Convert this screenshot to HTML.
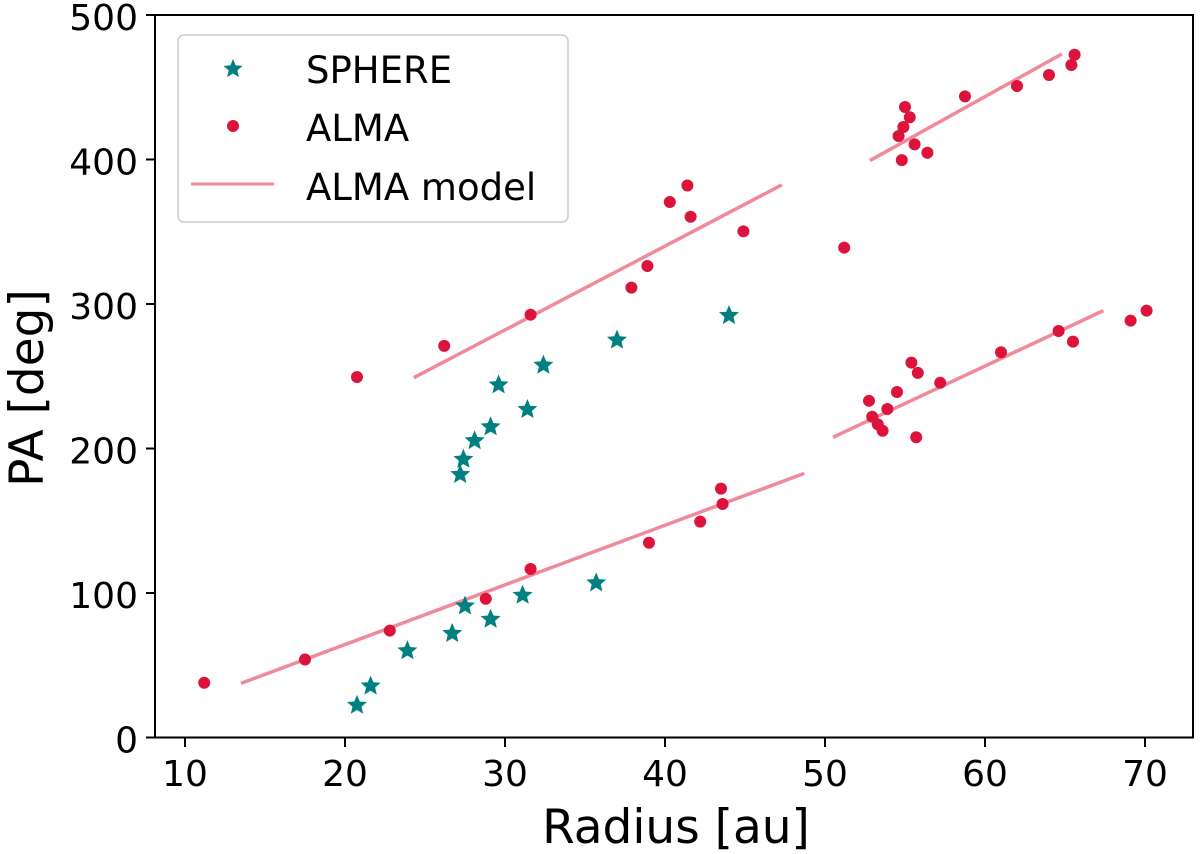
<!DOCTYPE html>
<html><head><meta charset="utf-8"><style>
body{margin:0;background:#fff}
svg{display:block;font-family:"DejaVu Sans","Liberation Sans",sans-serif}
</style></head><body>
<svg id="chart" width="1200" height="854" viewBox="0 0 1200 854">
<g id="marks"></g>
<rect x="155" y="15" width="1038" height="722.5" fill="none" stroke="#000" stroke-width="2"/>
<g id="axes"></g>
<text x="676" y="843" text-anchor="middle" font-size="47">Radius [au]</text>
<text transform="translate(43,388) rotate(-90)" text-anchor="middle" font-size="47">PA [deg]</text>
<g>
<rect x="178" y="35" width="390" height="187" rx="6" fill="#fff" fill-opacity="0.8" stroke="#ccc" stroke-width="1.5"/>
<g><path id="legstar" fill="#008080"/><text x="306" y="83" font-size="37">SPHERE</text></g>
<g><circle cx="233" cy="126" r="6" fill="#dc143c"/><text x="306" y="141" font-size="37">ALMA</text></g>
<g><line x1="191" y1="184" x2="274" y2="184" stroke="#f08a98" stroke-width="3"/><text x="306" y="200" font-size="37">ALMA model</text></g>
</g>
</svg>
<script>
const sphereR=[20.75,21.6,23.9,26.7,27.5,29.1,31.1,35.7,27.2,27.4,28.1,29.1,29.6,31.4,32.4,37.0,44.0];
const spherePA=[22.3,35.6,60,72,91,81.8,98.4,107,182,192.5,205.4,215,244,227,257.6,275,292];
const almaR=[11.2,17.5,22.8,28.8,31.6,20.75,26.2,31.6,41.4,40.3,41.6,44.9,38.9,37.9,51.2,43.5,43.6,42.2,39.0,
65.6,65.4,64.0,62.0,58.75,55.0,55.3,54.9,54.6,55.6,56.4,54.8,
70.1,69.1,64.6,65.5,61.0,55.4,55.8,57.2,54.5,52.75,53.9,52.95,53.3,53.6,55.7];
const almaPA=[37.9,54,74,96,116.6,249.5,271,292.6,382,370.6,360.4,350.3,326.3,311.3,339,172.2,161.6,149.4,134.8,
472.5,465.4,458.5,450.9,443.7,436.3,429.2,422.5,416.3,410.5,404.7,399.6,
295.4,288.5,281.3,274,266.6,259.4,252.3,245.5,239.1,233,227.3,222,216.7,212.3,207.8];
const modelR0=[13.5,24.3,50.5,52.8];
const modelR1=[48.7,47.3,67.4,64.8];
const modelPA0=[37.5,249,207.8,399.2];
const modelPA1=[182.8,382.4,295.4,473];
const xTicks=[10,20,30,40,50,60,70];
const yTicks=[0,100,200,300,400,500];
const X=v=>185+(v-10)*16;
const Y=v=>737.5-v*1.445;
const NS="http://www.w3.org/2000/svg";
const marks=document.getElementById('marks'),axes=document.getElementById('axes');
function mk(t,a,p){const e=document.createElementNS(NS,t);for(const k in a)e.setAttribute(k,a[k]);p.appendChild(e);return e;}
function star(cx,cy,R){let d='';for(let i=0;i<10;i++){const r=i%2?R*0.45:R;const a=-Math.PI/2+i*Math.PI/5;d+=(i?'L':'M')+(cx+r*Math.cos(a)).toFixed(1)+' '+(cy+r*Math.sin(a)).toFixed(1);}return d+'Z';}
document.getElementById('legstar').setAttribute('d',star(233,69,10));
for(let i=0;i<modelR0.length;i++){
 const l=mk('line',{x1:X(modelR0[i]),y1:Y(modelPA0[i]),x2:X(modelR1[i]),y2:Y(modelPA1[i]),stroke:'#f08a98','stroke-width':3.5},marks);
 
 
}
for(let i=0;i<almaR.length;i++){
 const c=mk('circle',{cx:X(almaR[i]),cy:Y(almaPA[i]),r:6,fill:'#dc143c'},marks);
 
 
}
for(let i=0;i<sphereR.length;i++){
 const s=mk('path',{d:star(X(sphereR[i]),Y(spherePA[i]),10.5),fill:'#008080'},marks);
 
 
}
xTicks.forEach(t=>{
 const l=mk('line',{x1:X(t),y1:737.5,x2:X(t),y2:747,stroke:'#000','stroke-width':2},axes);
 
 
 const tx=mk('text',{x:X(t),y:786,'text-anchor':'middle','font-size':36},axes);tx.textContent=t;
 
 
});
yTicks.forEach(t=>{
 const l=mk('line',{x1:146,y1:Y(t),x2:155,y2:Y(t),stroke:'#000','stroke-width':2},axes);
 
 
 const tx=mk('text',{x:138,y:Y(t)+15,'text-anchor':'end','font-size':36},axes);tx.textContent=t;
 
 
});
</script>
</body></html>
